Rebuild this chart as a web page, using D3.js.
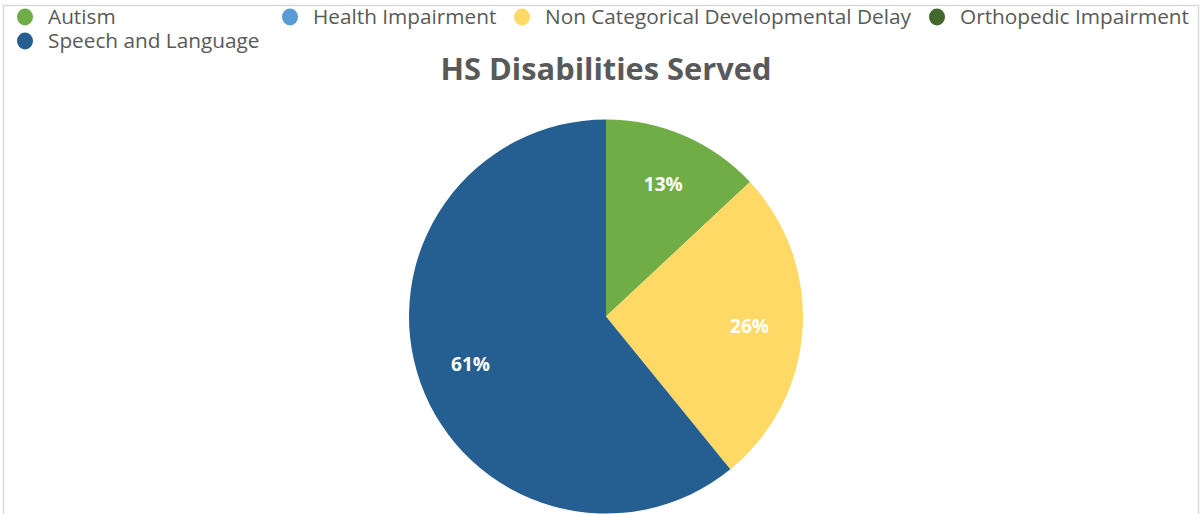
<!DOCTYPE html>
<html>
<head>
<meta charset="utf-8">
<script src="https://cdn.jsdelivr.net/npm/d3@7"></script>
<style>
  html, body { margin: 0; padding: 0; background: #fff; }
  svg { display: block; }
</style>
</head>
<body>
<svg id="chart" width="1202" height="514"></svg>
<script>
// data
var categories = ["Autism", "Health Impairment", "Non Categorical Developmental Delay", "Orthopedic Impairment", "Speech and Language"];
var counts = [3, 0, 6, 0, 14];
var colors = ["#70ad47", "#5b9bd5", "#ffd966", "#43682b", "#255e91"];
var title = "HS Disabilities Served";

var W = 1202, H = 514;
var FONT = "'Open Sans', 'DejaVu Sans', sans-serif";
var TEXT_COLOR = "#595959";

var svg = d3.select("#chart");

// frame
svg.append("rect")
    .attr("x", 3.5).attr("y", 5.5)
    .attr("width", 1195).attr("height", 520)
    .attr("fill", "#fff")
    .attr("stroke", "#d9d9d9")
    .attr("stroke-width", 1.5);

// fit a font size so that a string gets a given width
function fitSize(str, weight, target) {
    var t = svg.append("text")
        .attr("font-family", FONT).attr("font-weight", weight)
        .attr("font-size", 20).text(str);
    var w = t.node().getComputedTextLength();
    t.remove();
    return 20 * target / w;
}

// legend: 4 entries per row, columns at fixed x
var legSize = Math.min(fitSize("Orthopedic Impairment", "normal", 229), fitSize("Non Categorical Developmental Delay", "normal", 367));
var PER_ROW = 4;
var colX = [25, 290, 522, 937];
var legItems = categories.map(function(c, i) {
    return { name: c, color: colors[i], col: i % PER_ROW, row: Math.floor(i / PER_ROW) };
});

var items = svg.append("g").attr("class", "legend")
    .selectAll("g.item")
    .data(legItems)
    .enter().append("g")
    .attr("class", "item")
    .attr("transform", function(d) {
        return "translate(" + colX[d.col] + "," + (17 + d.row * 24) + ")";
    });

items.append("ellipse")
    .attr("cx", 0).attr("cy", 0)
    .attr("rx", 8).attr("ry", 8.5)
    .attr("fill", function(d) { return d.color; });

items.append("text")
    .attr("x", 23)
    .attr("y", 7)
    .attr("font-family", FONT)
    .attr("font-size", legSize)
    .attr("fill", TEXT_COLOR)
    .text(function(d) { return d.name; });

// title
var titleSize = fitSize(title, "bold", 331);
svg.append("text")
    .attr("x", 606).attr("y", 80)
    .attr("text-anchor", "middle")
    .attr("font-family", FONT)
    .attr("font-weight", "bold")
    .attr("font-size", titleSize)
    .attr("fill", TEXT_COLOR)
    .text(title);

// pie
var cx = 606, cy = 316.5, R = 197;
var total = d3.sum(counts);
var pie = d3.pie().sort(null).value(function(d) { return d.value; });
var data = categories.map(function(c, i) { return { name: c, value: counts[i], color: colors[i] }; });
var arcs = pie(data).filter(function(d) { return d.data.value > 0; });

var arc = d3.arc().innerRadius(0).outerRadius(R);
var labelArc = d3.arc().innerRadius(R * 0.73).outerRadius(R * 0.73);

var g = svg.append("g").attr("transform", "translate(" + cx + "," + cy + ")");
g.selectAll("path")
    .data(arcs)
    .enter().append("path")
    .attr("d", arc)
    .attr("fill", function(d) { return d.data.color; });

var lblSize = fitSize("13%", "bold", 39);
g.selectAll("text.lbl")
    .data(arcs)
    .enter().append("text")
    .attr("class", "lbl")
    .attr("transform", function(d) {
        var p = labelArc.centroid(d);
        return "translate(" + p[0] + "," + p[1] + ")";
    })
    .attr("dy", "0.35em")
    .attr("text-anchor", "middle")
    .attr("font-family", FONT)
    .attr("font-weight", "bold")
    .attr("font-size", lblSize)
    .attr("fill", "#fff")
    .text(function(d) { return Math.round(100 * d.data.value / total) + "%"; });
</script>
</body>
</html>
